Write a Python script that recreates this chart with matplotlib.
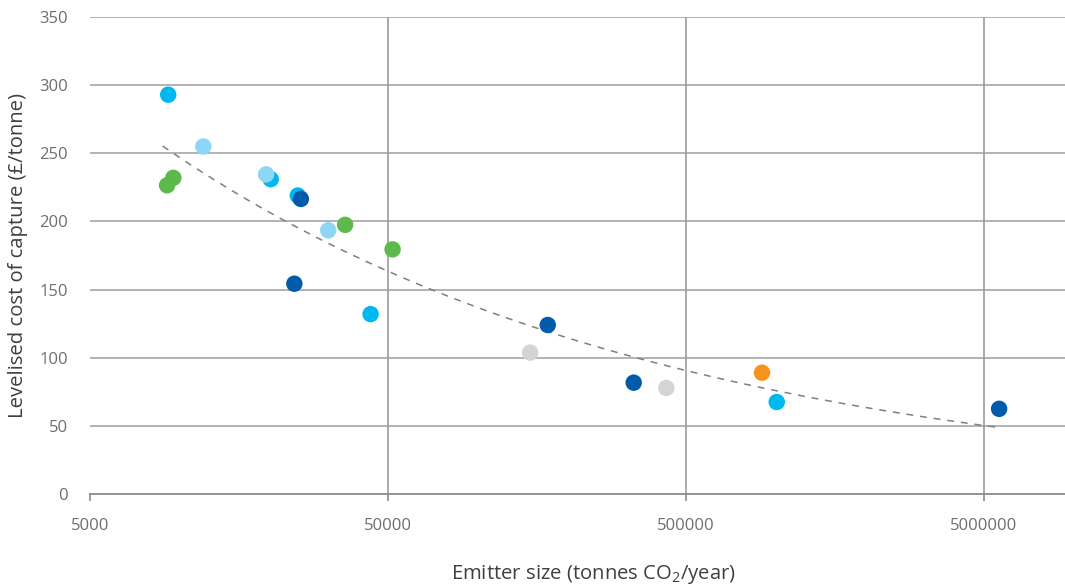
import numpy as np
import matplotlib
matplotlib.use("Agg")
import matplotlib.pyplot as plt
from matplotlib.ticker import FixedLocator, FixedFormatter, NullLocator

plt.rcParams['font.family'] = ['Open Sans', 'DejaVu Sans']
plt.rcParams['mathtext.fontset'] = 'custom'
plt.rcParams['mathtext.rm'] = 'Open Sans'
plt.rcParams['mathtext.default'] = 'regular'

# Emitter size (tonnes CO2/year) and levelised cost (GBP/tonne), grouped by colour
cyan_size = [9150, 20200, 24900, 43700, 1008000]
cyan_cost = [293, 231, 219, 132, 67.5]

lightblue_size = [12000, 19500, 31500]
lightblue_cost = [255, 234.5, 193.5]

green_size = [9070, 9520, 35900, 51800]
green_cost = [226.5, 232, 197.5, 179.5]

darkblue_size = [25500, 24250, 171800, 333800, 5620000]
darkblue_cost = [216.5, 154.3, 124, 81.7, 62.5]

grey_size = [150000, 429500]
grey_cost = [103.7, 77.8]

orange_size = [899500]
orange_cost = [89]

x_ticks = [5000, 50000, 500000, 5000000]
x_tick_labels = ["5000", "50000", "500000", "5000000"]
y_ticks = [0, 50, 100, 150, 200, 250, 300, 350]

series = [
    (cyan_size, cyan_cost, "#00B8F0"),
    (lightblue_size, lightblue_cost, "#8DD6F6"),
    (green_size, green_cost, "#5DB94B"),
    (darkblue_size, darkblue_cost, "#005BAA"),
    (grey_size, grey_cost, "#D4D4D4"),
    (orange_size, orange_cost, "#F6921E"),
]

fig = plt.figure(figsize=(10.65, 5.87), dpi=100)
ax = fig.add_axes([90 / 1065, 1 - 494 / 587, 975 / 1065, 477 / 587])

ax.set_xscale("log")
ax.set_xlim(5000, 5000 * 10 ** (975 / 298))
ax.set_ylim(0, 350)

# Grid
for y in y_ticks[1:]:
    ax.axhline(y, color="#A6A6A6", lw=1.2, zorder=1)
for x in x_ticks[1:]:
    ax.axvline(x, color="#9C9C9C", lw=1.2, zorder=1)
ax.axhline(0, color="#8A8A8A", lw=1.3, zorder=1, clip_on=False)

for s in ["top", "right", "left", "bottom"]:
    ax.spines[s].set_visible(False)

# Power-law trend fitted on all points (log-log least squares)
all_x = np.concatenate([np.array(sx, float) for sx, _, _ in series])
all_y = np.concatenate([np.array(sy, float) for _, sy, _ in series])
b, ln_a = np.polyfit(np.log(all_x), np.log(all_y), 1)
xt = np.logspace(np.log10(all_x.min()) - 0.015, np.log10(all_x.max()) + 0.003, 200)
ax.plot(xt, np.exp(ln_a) * xt ** b, ls=(0, (4.5, 4.5)), color="#7F7F7F", lw=1.1, zorder=2)

for sx, sy, c in series:
    ax.scatter(sx, sy, s=140, color=c, edgecolors="none", zorder=3)

ax.xaxis.set_major_locator(FixedLocator(x_ticks))
ax.xaxis.set_major_formatter(FixedFormatter(x_tick_labels))
ax.xaxis.set_minor_locator(NullLocator())
ax.tick_params(axis="x", which="major", length=5, width=1.2, color="#8A8A8A",
               labelsize=12, labelcolor="#6E6E6E", pad=12)
ax.set_yticks(y_ticks)
ax.tick_params(axis="y", length=0, labelsize=12, labelcolor="#6E6E6E", pad=16)

fig.text(18 / 1065, 1 - 256 / 587, "Levelised cost of capture (£/tonne)", rotation=90,
         ha="center", va="center", fontsize=14.6, color="#3F3F3F")
fig.text(593 / 1065, 1 - 575 / 587, "Emitter size (tonnes CO$_2$/year)",
         ha="center", va="center", fontsize=14.6, color="#3F3F3F")

fig.savefig("out.png", dpi=100)
